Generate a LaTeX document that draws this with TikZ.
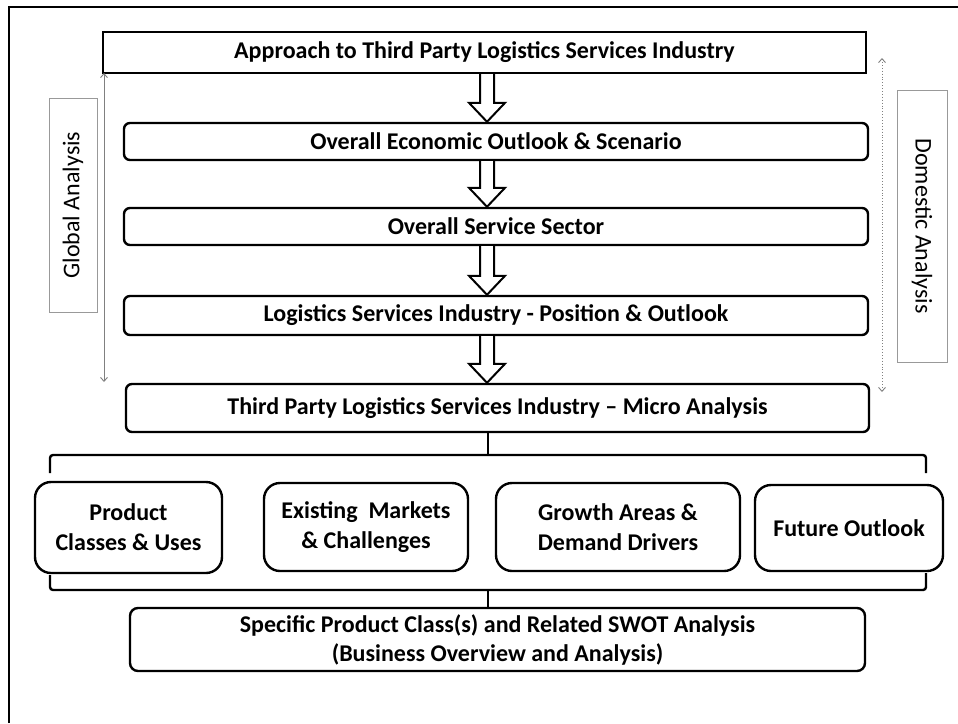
\documentclass[tikz,border=0pt]{standalone}
\usepackage{fontspec}
\setmainfont{Carlito}
\usetikzlibrary{arrows.meta,calc}
\newcommand\hollowarr[2]{\draw[hollow] let \p1=(#1.south), \p2=(#2.north) in (480pt,\y1) -- (480pt,\y2+19pt) -- (469pt,\y2+19pt) -- (487pt,\y2) -- (505pt,\y2+19pt) -- (494pt,\y2+19pt) -- (494pt,\y1);}
\begin{document}
\begin{tikzpicture}[x=1pt,y=-1pt,
 sq/.style={draw=black, line width=2.4pt, fill=white, inner sep=0pt, font=\fontsize{24}{29}\selectfont\bfseries},
 rbox/.style={sq, rounded corners=6pt},
 cbox/.style={sq, rounded corners=16pt, align=center, font=\fontsize{24}{30}\selectfont\bfseries},
 side/.style={draw=gray!80, line width=1pt, inner sep=0pt, font=\fontsize{24}{28}\selectfont},
 hollow/.style={draw=black, line width=2pt, fill=white, line join=miter},
 bracket/.style={draw=black, line width=2.4pt, rounded corners=3pt},
 span/.style={draw=gray, line width=0.9pt, {Straight Barb[length=4pt,width=7pt]}-{Straight Barb[length=4pt,width=7pt]}}
]
\useasboundingbox (0,0) rectangle (958,723);
\draw[line width=1.5pt] (9,723) -- (9,7) -- (958,7);

% brackets
\coordinate (tb) at (488,455);
\coordinate (bb) at (488,590);
\draw[bracket] (50,473) -- (50,455) -- (926,455) -- (926,473);
\draw[bracket] (50,575) -- (50,590) -- (926,590) -- (926,573);

% main boxes
\node[sq, minimum width=763pt, minimum height=41pt] (b1) at (484.5,52.5) {Approach to Third Party Logistics Services Industry};
\node[rbox, minimum width=744pt, minimum height=37pt] (b2) at (496,141.5) {Overall Economic Outlook \& Scenario};
\node[rbox, minimum width=744pt, minimum height=37pt] (b3) at (496,226.5) {Overall Service Sector};
\node[rbox, minimum width=744pt, minimum height=39pt] (b4) at (496,315.5) {Logistics Services Industry - Position \& Outlook};
\node[rbox, minimum width=743pt, minimum height=48pt] (b5) at (497.5,408) {Third Party Logistics Services Industry -- Micro Analysis};

% four boxes
\node[cbox, minimum width=187pt, minimum height=91pt] (cA) at (128.5,527.5) {Product\\Classes \& Uses};
\node[cbox, minimum width=204pt, minimum height=88pt] (cB) at (366,527) {Existing~~Markets\\\& Challenges};
\node[cbox, minimum width=244pt, minimum height=88pt] (cC) at (618,527) {Growth Areas \&\\Demand Drivers};
\node[cbox, minimum width=188pt, minimum height=86pt] (cD) at (849,528) {Future Outlook};

% bottom box
\node[sq, rounded corners=8pt, align=center, font=\fontsize{24}{29}\selectfont\bfseries, minimum width=735pt, minimum height=63pt] (b6) at (497.5,639.5) {Specific Product Class(s) and Related SWOT Analysis\\(Business Overview and Analysis)};

% bracket ticks
\draw[line width=2pt] (tb) -- (tb |- b5.south);
\draw[line width=2pt] (bb) -- (bb |- b6.north);

% hollow arrows
\hollowarr{b1}{b2}
\hollowarr{b2}{b3}
\hollowarr{b3}{b4}
\hollowarr{b4}{b5}

% side labels
\node[side, rotate=90, minimum width=214pt, minimum height=48pt] (ga) at (73,205) {Global Analysis};
\node[side, rotate=-90, minimum width=272pt, minimum height=50pt] (da) at (922,226) {Domestic Analysis};
\coordinate (ga1) at (104,73);
\coordinate (ga2) at (104,382);
\coordinate (da1) at (882,58);
\coordinate (da2) at (882,392);
\draw[span] (ga1) -- (ga2);
\draw[span, dotted] (da1) -- (da2);
\end{tikzpicture}
\end{document}
